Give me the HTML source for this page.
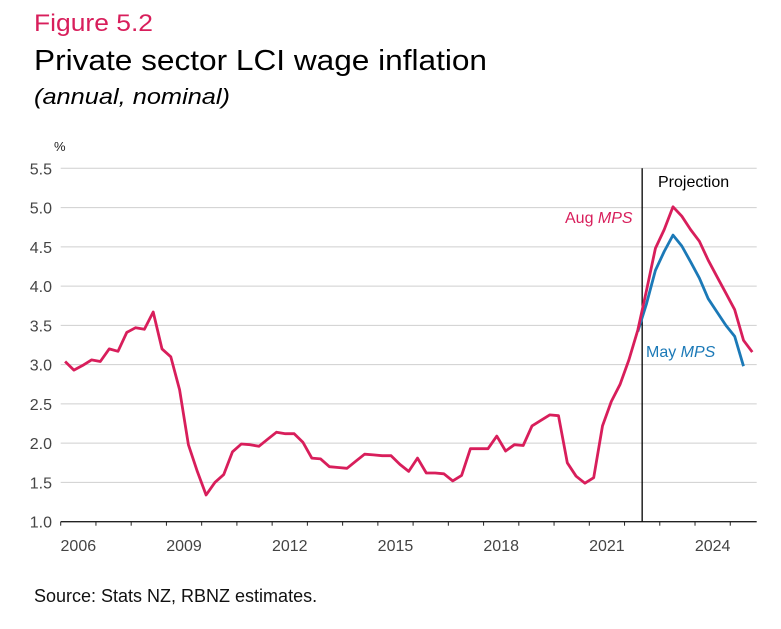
<!DOCTYPE html>
<html><head><meta charset="utf-8"><style>
html,body{margin:0;padding:0;background:#fff;}
svg{display:block;font-family:"Liberation Sans",sans-serif;}
</style></head><body>
<svg id="chart" width="781" height="629" viewBox="0 0 781 629">
<text x="34" y="31" font-size="24" fill="#d81e5b" textLength="119" lengthAdjust="spacingAndGlyphs">Figure 5.2</text>
<text x="34" y="70" font-size="29" fill="#000" textLength="453" lengthAdjust="spacingAndGlyphs">Private sector LCI wage inflation</text>
<text x="34" y="104" font-size="22" font-style="italic" fill="#000" textLength="196" lengthAdjust="spacingAndGlyphs">(annual, nominal)</text>
<text x="54" y="151" font-size="13" fill="#222">%</text>
<g id="grid"></g><g id="yticks"></g><g id="xaxis"></g><g id="series"></g>
<text x="658" y="187" font-size="16" fill="#000">Projection</text>
<text x="565" y="223" font-size="16" fill="#d81e5b">Aug <tspan font-style="italic">MPS</tspan></text>
<text x="646" y="357" font-size="16" fill="#1b79b7">May <tspan font-style="italic">MPS</tspan></text>
<text x="34" y="602" font-size="18" fill="#111">Source: Stats NZ, RBNZ estimates.</text>
</svg>
<script>
const yTicks = [1.0,1.5,2.0,2.5,3.0,3.5,4.0,4.5,5.0,5.5];
const xLabels = [2006,2009,2012,2015,2018,2021,2024];
const augStart = 2006;
const augValues = [3.04,2.93,2.99,3.06,3.04,3.20,3.17,3.41,3.47,3.45,3.67,3.20,3.10,2.68,1.98,1.64,1.34,1.50,1.60,1.89,1.99,1.98,1.96,2.05,2.14,2.12,2.12,2.01,1.81,1.80,1.70,1.69,1.68,1.77,1.86,1.85,1.84,1.84,1.73,1.64,1.81,1.62,1.62,1.61,1.52,1.59,1.93,1.93,1.93,2.09,1.90,1.98,1.97,2.22,2.29,2.36,2.35,1.75,1.58,1.49,1.56,2.22,2.53,2.75,3.06,3.44,3.95,4.48,4.72,5.01,4.89,4.72,4.57,4.33,4.12,3.91,3.70,3.31,3.16];
const mayStartIndex = 65;
const mayValues = [3.42,3.78,4.20,4.44,4.65,4.51,4.31,4.10,3.84,3.67,3.50,3.36,2.98];
const projectionStart = 2022.5;

const NS="http://www.w3.org/2000/svg";
const X0=60.7, PXY=35.24, XEND=756.7, YTOP=168.3, YBOT=521.7;
const xs=t=>X0+(t-2006)*PXY;
const ys=v=>YBOT-(v-1)*(YBOT-YTOP)/4.5;
const qt=i=>augStart+(i+0.5)/4;
function mk(tag,attrs,parent){const e=document.createElementNS(NS,tag);for(const k in attrs)e.setAttribute(k,attrs[k]);parent.appendChild(e);return e;}
const grid=document.getElementById('grid'),yt=document.getElementById('yticks'),xa=document.getElementById('xaxis'),se=document.getElementById('series');
yTicks.forEach(v=>{
  if(v>1){const l=mk('line',{x1:X0,x2:XEND,y1:ys(v),y2:ys(v),stroke:'#cfcfcf','stroke-width':1},grid);
  
  }
  const t=mk('text',{x:52,y:ys(v)+6,'font-size':16,fill:'#444','text-anchor':'end'},yt);
  t.textContent=v.toFixed(1);
  
  
});
const ax=mk('line',{x1:X0,x2:XEND,y1:YBOT,y2:YBOT,stroke:'#222','stroke-width':1.3},xa);


for(let y=2006;y<=2025;y++){const x=xs(y);if(x>XEND+1)break;
  const tk=mk('line',{x1:x,x2:x,y1:YBOT,y2:YBOT+4,stroke:'#222','stroke-width':1},xa);
  
  }
xLabels.forEach(y=>{const t=mk('text',{x:xs(y+0.5),y:551,'font-size':16,fill:'#444','text-anchor':'middle'},xa);
  t.textContent=y;
  
  });
const pl=mk('line',{x1:xs(projectionStart),x2:xs(projectionStart),y1:YTOP,y2:YBOT,stroke:'#000','stroke-width':1.3},se);


const mayPts=mayValues.map((v,i)=>xs(qt(mayStartIndex+i)).toFixed(1)+','+ys(v).toFixed(1)).join(' ');
const mp=mk('polyline',{points:mayPts,fill:'none',stroke:'#1b79b7','stroke-width':2.8,'stroke-linejoin':'round'},se);


const augPts=augValues.map((v,i)=>xs(qt(i)).toFixed(1)+','+ys(v).toFixed(1)).join(' ');
const ap=mk('polyline',{points:augPts,fill:'none',stroke:'#d81e5b','stroke-width':2.8,'stroke-linejoin':'round'},se);


</script>
</body></html>
